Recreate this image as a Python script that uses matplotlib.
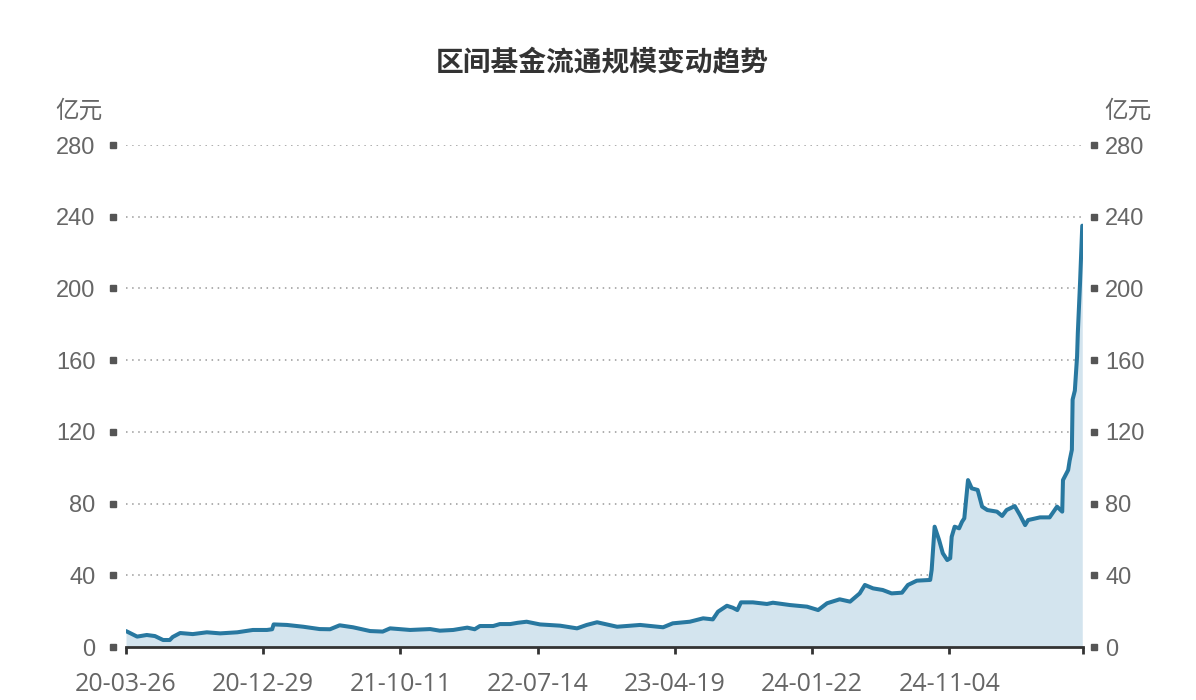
import matplotlib
matplotlib.use('Agg')
import matplotlib.pyplot as plt

plt.rcParams['font.family'] = ['Noto Sans CJK SC', 'DejaVu Sans']

# trading-day index and fund size (亿元)
day_idx = [0, 15, 28, 39, 50, 59, 63, 73, 90, 109, 127, 150, 171, 190, 197, 199,
           217, 239, 261, 275, 288, 306, 329, 346, 356, 383, 410, 423, 441, 460,
           470, 477, 495, 504, 518, 528, 540, 558, 585, 608, 621, 635, 662, 693,
           724, 737, 760, 778, 791, 798, 810, 818, 824, 829, 845, 864, 872, 895,
           918, 933, 945, 962, 976, 989, 996, 1007, 1020, 1032, 1046, 1054, 1066,
           1084, 1086, 1090, 1096, 1101, 1107, 1111, 1113, 1117, 1123, 1127, 1130,
           1135, 1140, 1148, 1154, 1161, 1174, 1181, 1187, 1198, 1205, 1212, 1216,
           1232, 1245, 1255, 1262, 1263, 1270, 1272, 1275, 1276, 1279, 1282, 1283,
           1286, 1289]
size_yi = [8.9, 5.8, 6.7, 6.1, 3.9, 3.9, 5.6, 7.8, 7.2, 8.2, 7.6, 8.2, 9.5, 9.5, 9.9, 12.6,
           12.3, 11.3, 10.0, 9.9, 12.1, 11.0, 8.9, 8.6, 10.4, 9.5, 10.0, 9.1, 9.5, 10.8,
           9.9, 11.7, 11.7, 12.8, 12.8, 13.5, 14.1, 12.6, 11.9, 10.4, 12.3, 13.8, 11.3, 12.3,
           11.0, 13.2, 14.1, 16.0, 15.4, 19.7, 23.0, 21.9, 20.6, 24.9, 24.9, 24.0, 24.7, 23.4,
           22.5, 20.6, 24.4, 26.6, 25.3, 29.9, 34.6, 32.7, 31.8, 29.9, 30.3, 34.6, 37.0,
           37.4, 43.0, 67.1, 59.7, 52.3, 48.5, 49.5, 61.5, 67.1, 66.2, 69.9, 71.8,
           93.1, 88.5, 87.6, 78.3, 76.4, 75.5, 73.1, 76.4, 78.6, 73.6, 68.0, 70.8,
           72.3, 72.3, 78.3, 75.5, 93.1, 98.7, 104, 110, 138, 143, 162, 175,
           203, 235]

tick_idx = [0, 185, 370, 555, 740, 925, 1110]
tick_labels = ['20-03-26', '20-12-29', '21-10-11', '22-07-14', '23-04-19', '24-01-22', '24-11-04']
y_ticks = [0, 40, 80, 120, 160, 200, 240, 280]
n_days = 1290

line_color = '#2878a0'
fill_color = '#d3e4ee'
text_color = '#666666'

fig = plt.figure(figsize=(11.96, 7.0), dpi=100)
ax = fig.add_axes([126 / 1196, 53 / 700, 957 / 1196, 502 / 700])

ax.fill_between(day_idx, size_yi, 0, color=fill_color, lw=0)
ax.plot(day_idx, size_yi, color=line_color, lw=2.9, solid_joinstyle='round',
        solid_capstyle='round')

ax.set_xlim(0, n_days)
ax.set_ylim(0, 280)

# dotted grid
for v in y_ticks[1:]:
    ax.axhline(v, color='#999999', lw=1.1, ls=(0, (1, 3)), zorder=0)

for s in ['top', 'right', 'left']:
    ax.spines[s].set_visible(False)
ax.spines['bottom'].set_color('#333333')
ax.spines['bottom'].set_linewidth(2)

ax.set_xticks(tick_idx)
ax.set_xticklabels(tick_labels, fontsize=18, color=text_color, family=['Open Sans', 'DejaVu Sans'])
ax.set_xticks([n_days], minor=True)
ax.tick_params(axis='x', which='both', length=5, width=2, color='#333333', pad=13)

ax.set_yticks(y_ticks)
ax.tick_params(axis='y', length=0, pad=22, labelsize=17, labelcolor=text_color)
for lab in ax.get_yticklabels():
    lab.set_family(['Liberation Sans', 'DejaVu Sans'])

# right axis
ax2 = ax.twinx()
ax2.set_ylim(0, 280)
ax2.set_yticks(y_ticks)
ax2.tick_params(axis='y', length=0, pad=16, labelsize=17, labelcolor=text_color)
for lab in ax2.get_yticklabels():
    lab.set_family(['Liberation Sans', 'DejaVu Sans'])
for s in ax2.spines.values():
    s.set_visible(False)

# square tick markers
tr = ax.get_yaxis_transform()
ax.plot([-0.0136] * len(y_ticks), y_ticks, 's', ms=4.5, color='#555555',
        transform=tr, clip_on=False)
ax.plot([1.0115] * len(y_ticks), y_ticks, 's', ms=4.5, color='#555555',
        transform=tr, clip_on=False)

fig.text(79 / 1196, 1 - 111 / 700, '亿元', fontsize=17, color=text_color, ha='center', va='center')
fig.text(1128 / 1196, 1 - 111 / 700, '亿元', fontsize=17, color=text_color, ha='center', va='center')
fig.text(602 / 1196, 1 - 63 / 700, '区间基金流通规模变动趋势', fontsize=20, fontweight='bold',
         color='#333333', ha='center', va='center')

fig.savefig('out.png', dpi=100, facecolor='white')
